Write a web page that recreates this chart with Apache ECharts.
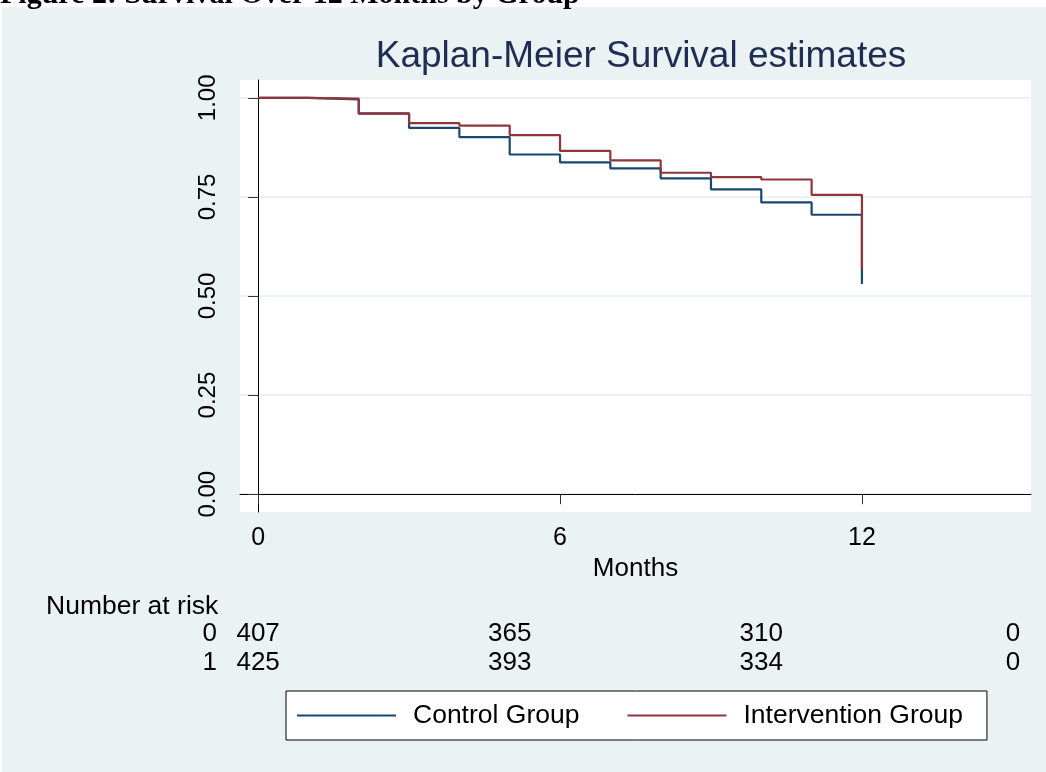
<!DOCTYPE html>
<html>
<head>
<meta charset="utf-8">
<script src="https://cdn.jsdelivr.net/npm/echarts@6/dist/echarts.min.js"></script>
<style>
  html, body { margin: 0; padding: 0; background: #fff; }
  #km-chart { width: 1046px; height: 772px; }
</style>
</head>
<body>
<div id="km-chart"></div>
<script>
// survival step values, one per month (value after the drop at that month)
var months = [0, 1, 2, 3, 4, 5, 6, 7, 8, 9, 10, 11, 12];
var controlSurv = [1.000, 0.996, 0.960, 0.924, 0.901, 0.857, 0.837, 0.822, 0.797, 0.769, 0.736, 0.705, 0.530];
var interventionSurv = [1.000, 0.998, 0.961, 0.936, 0.930, 0.906, 0.866, 0.842, 0.811, 0.800, 0.794, 0.755, 0.566];

// number at risk table
var riskTimes = [0, 5, 10, 15];
var riskRows = ["0", "1"];
var controlRisk = [407, 365, 310, 0];
var interventionRisk = [425, 393, 334, 0];

var xTicks = [0, 6, 12];
var yTicks = [0, 0.25, 0.5, 0.75, 1];

var blue = "#1a476f";
var red = "#90353b";
var bg = "#eaf2f3";
var font = "Liberation Sans, Arial, Helvetica, sans-serif";

function pairs(xs, ys) {
  return xs.map(function (x, i) { return [x, ys[i]]; });
}
function riskData(row, vals) {
  return riskTimes.map(function (t, i) { return [t, row, vals[i]]; });
}

var myChart = echarts.init(document.getElementById("km-chart"));
var option = {
  backgroundColor: "#ffffff",
  animation: false,
  textStyle: { fontFamily: font },
  graphic: [
    {
      type: "rect",
      z: -10,
      silent: true,
      shape: { x: 2, y: 7, width: 1044, height: 765 },
      style: { fill: bg }
    },
    {
      type: "text",
      z: -5,
      silent: true,
      x: 0,
      y: -5,
      style: {
        text: "Figure 2: Survival Over 12 Months by Group",
        font: "bold 30px 'Liberation Serif', 'Times New Roman', serif",
        fill: "#000",
        verticalAlign: "middle"
      }
    }
  ],
  title: [
    {
      text: "Kaplan-Meier Survival estimates",
      left: 636,
      top: 33,
      textAlign: "center",
      textStyle: { color: "#1e2d52", fontSize: 37, fontWeight: "normal", fontFamily: font }
    },
    {
      text: "Number at risk",
      left: 41,
      top: 588,
      textStyle: { color: "#000", fontSize: 26.5, fontWeight: "normal", fontFamily: font }
    }
  ],
  legend: {
    left: 286,
    top: 691,
    orient: "horizontal",
    backgroundColor: "#fff",
    borderColor: "#000",
    borderWidth: 1,
    padding: [11, 24, 11, 11],
    itemGap: 48,
    itemWidth: 99,
    itemHeight: 2,
    icon: "rect",
    textStyle: { color: "#000", fontSize: 26.5, padding: [0, 0, 0, 12] },
    data: ["Control Group", "Intervention Group"]
  },
  grid: [
    { left: 240, right: 15, top: 80, bottom: 260, show: true, backgroundColor: "#fff", borderWidth: 0 },
    { left: 240, right: 15, top: 619, height: 58, show: false }
  ],
  xAxis: [
    {
      gridIndex: 0,
      type: "value",
      min: -0.36,
      max: 15.36,
      name: "Months",
      nameLocation: "middle",
      nameGap: 42,
      nameTextStyle: { color: "#000", fontSize: 26 },
      axisLine: { lineStyle: { color: "#000", width: 1 } },
      axisTick: { show: true, length: 10, customValues: xTicks, lineStyle: { color: "#333" } },
      axisLabel: { customValues: xTicks, color: "#000", fontSize: 25, margin: 14 },
      splitLine: { show: false }
    },
    {
      gridIndex: 1,
      type: "value",
      min: -0.36,
      max: 15.36,
      show: false
    }
  ],
  yAxis: [
    {
      gridIndex: 0,
      type: "value",
      min: -0.045,
      max: 1.045,
      axisLine: { show: true, lineStyle: { color: "#000", width: 1 } },
      axisTick: { show: true, length: 10, customValues: yTicks, lineStyle: { color: "#333" } },
      axisLabel: {
        customValues: yTicks,
        rotate: 90,
        color: "#000",
        fontSize: 24,
        margin: 20,
        formatter: function (v) { return v.toFixed(2); }
      },
      splitLine: { show: true, lineStyle: { color: bg, width: 2 } }
    },
    {
      gridIndex: 1,
      type: "category",
      data: riskRows,
      inverse: true,
      axisLine: { show: false },
      axisTick: { show: false },
      splitLine: { show: false },
      axisLabel: { color: "#000", fontSize: 26, margin: 23, interval: 0, hideOverlap: false }
    }
  ],
  series: [
    {
      name: "Control Group",
      type: "line",
      step: "end",
      showSymbol: false,
      color: blue,
      lineStyle: { width: 2.2, color: blue },
      data: pairs(months, controlSurv)
    },
    {
      name: "Intervention Group",
      type: "line",
      step: "end",
      showSymbol: false,
      color: red,
      lineStyle: { width: 2.2, color: red },
      data: pairs(months, interventionSurv)
    },
    {
      type: "scatter",
      xAxisIndex: 1,
      yAxisIndex: 1,
      symbolSize: 1,
      silent: true,
      itemStyle: { color: "rgba(0,0,0,0)", opacity: 1 },
      label: {
        show: true,
        position: "inside",
        color: "#000",
        textBorderWidth: 0,
        fontSize: 26,
        formatter: function (p) { return p.value[2]; }
      },
      data: riskData("0", controlRisk).concat(riskData("1", interventionRisk))
    }
  ]
};
myChart.setOption(option, true);
</script>
</body>
</html>
